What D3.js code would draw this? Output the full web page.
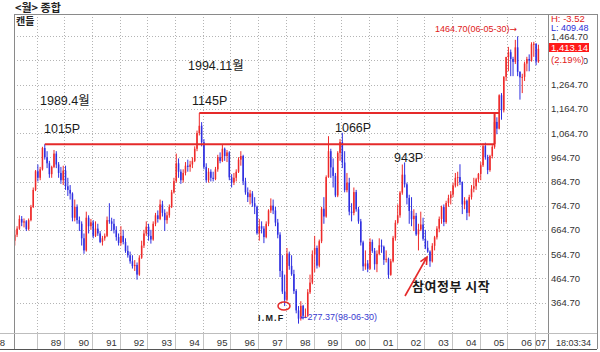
<!DOCTYPE html>
<html><head><meta charset="utf-8">
<script src="https://cdn.jsdelivr.net/npm/d3@7"></script>
<style>
body{margin:0;background:#fff;}
svg{display:block;font-family:"Liberation Sans","Noto Sans CJK KR",sans-serif;}
</style></head><body>
<svg id="c" width="600" height="352"></svg>
<script>
// ---------------- DATA ----------------
const firstMonth = "1988-03";
const opens = [
 620,645,670,710,695,700,668,705,760,830,
 907,880,915,1003,965,940,895,925,980,935,900,870,
 910,845,830,815,715,760,705,690,630,580,715,680,
 696,640,670,650,615,630,640,705,700,690,665,635,
 611,640,615,578,560,535,515,520,480,550,600,650,
 678,640,625,690,725,710,770,735,705,725,760,820,
 866,940,905,870,900,930,925,935,950,1000,1065,1095,
 1027,925,870,905,880,875,915,965,950,1000,970,985,
 882,860,880,905,955,970,865,820,800,815,775,760,
 651,680,670,635,690,745,765,745,695,645,495,410,
 376,567,516,482,412,332,298,351,310,310,407,447,
 562,590,517,618,752,720,883,990,923,888,807,983,
 1028,943,829,860,740,735,821,750,700,613,514,526,
 504,615,578,523,566,601,595,541,545,479,535,632,
 694,725,819,893,853,797,743,709,723,646,667,687,
 628,591,575,535,599,634,670,710,759,697,776,796,
 811,848,880,883,862,770,785,735,800,835,845,874,
 896,932,1011,965,912,970,1008,1111,1083,1221,1159,1297,
 1379,1399,1371,1359,1419,1318,1295,1297,1352,1371,1364,1432,
 1434,1360];
const highs = [
 665,680,725,722,712,705,712,768,840,912,
 935,925,1008,1019,990,950,930,995,990,945,925,930,
 930,880,850,820,790,770,720,700,650,740,725,710,
 705,700,690,660,640,650,720,775,715,710,680,650,
 680,665,630,600,575,560,540,530,560,620,665,700,
 690,665,700,735,745,790,785,750,740,770,830,880,
 980,960,915,915,945,955,950,965,1010,1075,1148,1110,
 1040,940,920,915,905,925,975,985,1019,1005,995,990,
 895,900,915,965,990,975,880,840,830,825,800,765,
 710,700,680,700,750,795,790,760,710,655,560,480,
 590,575,560,500,420,350,370,355,340,420,480,580,
 640,600,625,760,800,890,1052,1000,960,900,990,1040,
 1066,990,900,880,775,840,830,760,710,620,580,540,
 630,625,590,580,630,625,600,580,550,545,640,705,
 770,825,935,943.5,860,810,800,750,735,690,740,715,
 665,620,580,610,640,680,720,765,770,785,810,825,
 860,900,905,936,865,800,790,810,850,880,880,900,
 945,1022,1025,975,975,1015,1115,1130,1225,1230,1300,1380,
 1421,1410,1380,1450,1464.7,1320,1310,1360,1380,1390,1440,1442,
 1436,1430];
const lows = [
 600,635,665,680,675,660,662,700,755,825,
 865,870,910,955,920,880,880,920,920,880,855,850,
 830,805,790,700,700,690,660,600,566,575,650,665,
 630,635,640,610,600,620,635,690,660,650,620,600,
 600,605,570,550,525,505,495,459,475,545,590,640,
 620,608,620,680,695,705,720,660,690,715,755,815,
 860,880,855,860,890,905,905,920,945,990,1055,1010,
 915,860,860,865,865,870,905,940,945,950,945,870,
 840,850,865,900,930,850,810,780,770,760,730,645,
 620,650,610,630,680,735,730,680,630,470,400,350,
 370,500,475,400,320,277.37,290,295,300,305,400,440,
 490,505,510,610,690,715,880,880,840,800,800,950,
 920,820,820,725,700,725,740,690,600,495,500,490,
 500,570,500,490,560,570,520,530,463,475,530,620,
 690,715,810,840,770,690,680,660,640,580,660,620,
 585,570,512,530,580,625,655,690,680,690,760,770,
 800,840,845,850,730,750,705,720,790,820,830,860,
 870,925,955,895,905,960,1000,1060,1080,1120,1150,1280,
 1320,1300,1300,1350,1300,1203,1230,1280,1320,1320,1360,1380,
 1345,1355];
const closes = [
 645,670,710,695,700,668,705,760,830,907,
 880,915,1003,965,940,895,925,980,935,900,870,910,
 845,830,815,715,760,705,690,630,580,715,680,696,
 640,670,650,615,630,640,705,700,690,665,635,611,
 640,615,578,560,535,515,520,480,550,600,650,678,
 640,625,690,725,710,770,735,705,725,760,820,866,
 940,905,870,900,930,925,935,950,1000,1065,1095,1027,
 925,870,905,880,875,915,965,950,1000,970,985,882,
 860,880,905,955,970,865,820,800,815,775,760,651,
 680,670,635,690,745,765,745,695,645,495,410,376,
 567,516,482,412,332,298,351,310,310,407,447,562,
 590,517,618,752,720,883,990,923,888,807,983,1028,
 943,829,860,740,735,821,750,700,613,514,526,504,
 615,578,523,566,601,595,541,545,479,535,632,694,
 725,819,893,853,797,743,709,723,646,667,687,628,
 591,575,535,599,634,670,710,759,697,776,796,811,
 848,880,883,862,770,785,735,800,835,845,874,896,
 932,1011,965,912,970,1008,1111,1083,1221,1159,1297,1379,
 1399,1371,1359,1419,1318,1295,1297,1352,1371,1364,1432,1434,
 1360,1413];
const yTickValues = [364.7,464.7,564.7,664.7,764.7,864.7,964.7,1064.7,1164.7,1264.7,1364.7,1464.7];
const yearLabels = ["88","89","90","91","92","93","94","95","96","97","98","99","00","01","02","03","04","05","06","07"];
const supportLines = [
  {from:"1989-04", to:"2005-07", value:1019},
  {from:"1994-11", to:"2005-09", value:1148}
];
const closingLink = {at:"2005-07", from:1019, to:1148};
const headerTexts = {title:"<월> 종합", kind:"캔들", hi:"H: -3.52", lo:"L: 409.48", last:"1,413.14", pct:"(2.19%)", time:"18:03:34"};
const notes = ["1994.11월","1989.4월","1145P","1015P","1066P","943P","참여정부 시작","I.M.F"];
const peakNote = {text:"1464.70(06-05-30)", arrow:"→"};
const troughNote = {text:"277.37(98-06-30)", arrow:"←"};

// ---------------- LAYOUT ----------------
const svg = d3.select("#c");
const P = {l:14, r:548, t:14, b:333, rr:597, bb:349};
const RED = "#ee2a2a", BLUE = "#2f2fe0";
const months = d3.timeMonth.range(new Date(1988,0,1), new Date(2007,2,1));
const fmt = d3.timeFormat("%Y-%m");
const keys = months.map(fmt);
const step = 2.3067, x0 = 9.02;
const x = d3.scaleBand().domain(keys).range([x0, x0 + keys.length*step]).paddingInner(0.34).paddingOuter(0.17);
const y = d3.scaleLinear().domain([364.7,1264.7]).range([302.5,84.7]);
const cx = k => x(k) + x.bandwidth()/2;
const gx = k => x(k) - x.step()*x.paddingInner()/2;

const startIdx = keys.indexOf(firstMonth);
const data = opens.map((o,i)=>({k:keys[startIdx+i], o, h:highs[i], l:lows[i], c:closes[i]}));

svg.append("defs").append("clipPath").attr("id","pc")
  .append("rect").attr("x",P.l).attr("y",P.t).attr("width",P.r-P.l).attr("height",P.b-P.t);

// grid
const gridG = svg.append("g");
gridG.selectAll("line.h").data(yTickValues).join("line")
  .attr("x1",P.l).attr("x2",P.r).attr("y1",d=>Math.round(y(d))+0.5).attr("y2",d=>Math.round(y(d))+0.5)
  .attr("stroke","#b4b4b4").attr("stroke-dasharray","1,2");
const janKeys = keys.filter(k=>k.endsWith("-01"));
gridG.selectAll("line.v").data(janKeys.slice(1)).join("line")
  .attr("x1",d=>Math.round(gx(d))+0.5).attr("x2",d=>Math.round(gx(d))+0.5).attr("y1",P.t).attr("y2",P.b)
  .attr("stroke","#b4b4b4").attr("stroke-dasharray","1,2");

const yAxis = svg.append("g").attr("transform",`translate(${P.r},0)`)
  .call(d3.axisRight(y).tickValues(yTickValues).tickFormat(d3.format(",.2f")).tickSize(0).tickPadding(3));
yAxis.select(".domain").remove();
yAxis.selectAll("text").attr("font-size",9.5).attr("fill","#333").attr("font-family","Liberation Sans, sans-serif");

// candles
const candles = svg.append("g").attr("clip-path","url(#pc)");
candles.selectAll("line").data(data).join("line")
  .attr("x1",d=>cx(d.k)).attr("x2",d=>cx(d.k)).attr("y1",d=>y(d.h)).attr("y2",d=>y(d.l))
  .attr("stroke",d=>d.c>=d.o?RED:BLUE).attr("stroke-width",1);
candles.selectAll("rect").data(data).join("rect")
  .attr("x",d=>x(d.k)).attr("width",x.bandwidth())
  .attr("y",d=>y(Math.max(d.o,d.c))).attr("height",d=>Math.max(1,Math.abs(y(d.o)-y(d.c))))
  .attr("fill",d=>d.c>=d.o?RED:BLUE);

// support / resistance lines
const sl = svg.append("g").attr("stroke","#e52a2a").attr("stroke-width",2).attr("fill","none");
sl.selectAll("line.s").data(supportLines).join("line")
  .attr("x1",d=>cx(d.from)).attr("x2",d=>cx(d.to)).attr("y1",d=>y(d.value)).attr("y2",d=>y(d.value));
sl.append("line").attr("x1",cx(closingLink.at)).attr("x2",cx(closingLink.at))
  .attr("y1",y(closingLink.from)).attr("y2",y(closingLink.to));

// frame
const fr = svg.append("g").attr("stroke","#8a8a8a").attr("stroke-width",1).attr("shape-rendering","crispEdges");
fr.append("line").attr("x1",P.l).attr("x2",P.rr).attr("y1",P.t).attr("y2",P.t);
fr.append("line").attr("x1",P.l).attr("x2",P.l).attr("y1",P.t).attr("y2",P.bb);
fr.append("line").attr("x1",P.r).attr("x2",P.r).attr("y1",P.t).attr("y2",P.bb);
fr.append("line").attr("x1",P.rr).attr("x2",P.rr).attr("y1",P.t).attr("y2",P.bb);
fr.append("line").attr("x1",0).attr("x2",P.rr).attr("y1",P.bb).attr("y2",P.bb).attr("stroke","#555");
fr.append("line").attr("x1",0).attr("x2",P.rr).attr("y1",P.b).attr("y2",P.b).attr("stroke","#bdbdbd");
fr.selectAll("line.sep").data(janKeys.slice(1)).join("line")
  .attr("x1",d=>Math.round(gx(d))+0.5).attr("x2",d=>Math.round(gx(d))+0.5).attr("y1",P.b).attr("y2",P.bb)
  .attr("stroke","#c4c4c4");

// bottom year labels
const xAxis = svg.append("g").attr("transform",`translate(0,${P.b})`)
  .call(d3.axisBottom(x).tickValues(janKeys).tickFormat((k,i)=>yearLabels[i]).tickSize(0).tickPadding(0));
xAxis.select(".domain").remove();
xAxis.selectAll(".tick text").attr("font-size",9.5).attr("fill","#333").attr("text-anchor","end")
  .attr("y",12.5).attr("dy",0)
  .attr("x",(k,i)=>{ const t = cx(k); if(i===0) return 5 - t; return Math.min(gx(k)+12*step-3, 546) - t; });

// right panel texts
const rp = svg.append("g").attr("font-size",9.5);
rp.append("text").attr("x",551).attr("y",21.5).attr("fill","#e02020").text(headerTexts.hi);
rp.append("text").attr("x",551).attr("y",31).attr("font-size",9).attr("fill","#2b2bd6").text(headerTexts.lo);
rp.append("rect").attr("x",549).attr("y",43).attr("width",40).attr("height",9).attr("fill","#ff1a1a");
rp.append("text").attr("x",551).attr("y",51).attr("fill","#fff").text(headerTexts.last);
rp.append("rect").attr("x",549).attr("y",54).attr("width",35).attr("height",10).attr("fill","#fff");
rp.append("text").attr("x",551).attr("y",62.5).attr("fill","#e02020").text(headerTexts.pct);
rp.append("text").attr("x",556).attr("y",345.5).attr("fill","#333").attr("font-size",9).text(headerTexts.time);

// header
svg.append("text").attr("x",15).attr("y",11.5).attr("font-size",11).attr("font-weight","bold").attr("fill","#222")
  .attr("font-family","Noto Sans CJK KR, sans-serif").text(headerTexts.title);
svg.append("text").attr("x",16).attr("y",25).attr("font-size",10).attr("font-weight","bold").attr("fill","#222")
  .attr("font-family","Noto Sans CJK KR, sans-serif").text(headerTexts.kind);

// annotations
const ann = svg.append("g").attr("fill","#1a1a1a").attr("font-size",12.5);
const put = (t,xx,yy) => ann.append("text").attr("x",xx).attr("y",yy).text(t);
put(notes[0],188,70); put(notes[1],40,105); put(notes[2],192,105); put(notes[3],44,133);
put(notes[4],335,132); put(notes[5],394,162);
ann.append("text").attr("x",412).attr("y",291).attr("font-size",13).attr("font-weight","bold")
  .attr("font-family","Noto Sans CJK KR, sans-serif").attr("letter-spacing",0.5).text(notes[6]);
ann.append("text").attr("x",258).attr("y",321).attr("font-size",9).attr("font-weight","bold")
  .attr("letter-spacing",1.2).text(notes[7]);
const pk = ann.append("text").attr("x",435).attr("y",31.5).attr("font-size",9).attr("fill","#e02020");
pk.append("tspan").text(peakNote.text);
pk.append("tspan").attr("font-family","DejaVu Sans, sans-serif").text(peakNote.arrow);
const tr = ann.append("text").attr("x",300).attr("y",320).attr("font-size",9).attr("fill","#3a3ad0");
tr.append("tspan").attr("font-family","DejaVu Sans, sans-serif").text(troughNote.arrow);
tr.append("tspan").text(troughNote.text);

// IMF circle and arrow
svg.append("ellipse").attr("cx",284).attr("cy",306).attr("rx",6).attr("ry",4)
  .attr("fill","none").attr("stroke","#e52a2a").attr("stroke-width",1.5);
const ax1=405, ay1=296, ax2=427, ay2=257;
const ang = Math.atan2(ay2-ay1, ax2-ax1);
const ah = 8;
const arrow = svg.append("g").attr("stroke","#e52a2a").attr("stroke-width",1.6).attr("fill","none");
arrow.append("line").attr("x1",ax1).attr("y1",ay1).attr("x2",ax2).attr("y2",ay2);
arrow.append("polyline").attr("points",[
  [ax2 - ah*Math.cos(ang-0.45), ay2 - ah*Math.sin(ang-0.45)],
  [ax2, ay2],
  [ax2 - ah*Math.cos(ang+0.45), ay2 - ah*Math.sin(ang+0.45)]].map(p=>p.join(",")).join(" "));
</script>
</body></html>
